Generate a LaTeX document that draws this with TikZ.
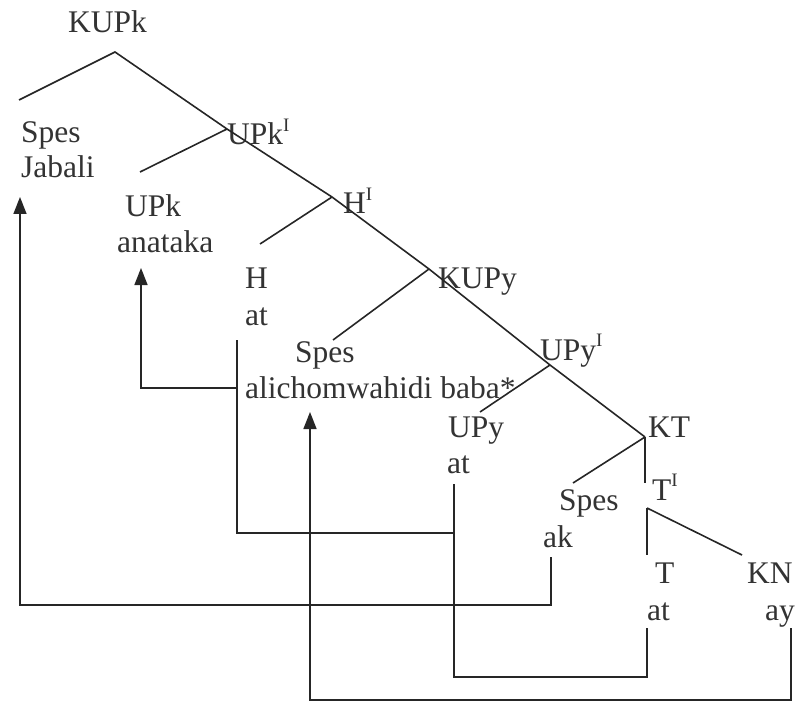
\documentclass[tikz,border=0pt]{standalone}
\usepackage{fontspec}
\setmainfont{Liberation Serif}
\usetikzlibrary{arrows.meta}
\newcommand{\supI}{\raisebox{0.42em}{\fontsize{19}{19}\selectfont I}}
\begin{document}
\begin{tikzpicture}[x=1pt,y=-1pt,
  lbl/.style={anchor=base west,inner sep=0pt,font=\fontsize{31.5}{36}\selectfont,text=black!80},
  ln/.style={line width=1.6pt,black!85},
  arr/.style={ln,-{Triangle[length=17pt,width=13pt]}}]
\useasboundingbox (0,0) rectangle (797,703);
% labels
\node[lbl] (kupk) at (68,33) {KUPk};
\node[lbl] (upkI) at (227,145) {UPk\supI};
\node[lbl] (hI) at (343,214) {H\supI};
\node[lbl] (kupy) at (438,288) {KUPy};
\node[lbl] (upyI) at (540,360) {UPy\supI};
\node[lbl] (kt) at (648,437) {KT};
\node[lbl] (tI) at (652,500) {T\supI};
\node[lbl] (spesA) at (21,143) {Spes};
\node[lbl] (jabali) at (21,178) {Jabali};
\node[lbl] (upk) at (125,217) {UPk};
\node[lbl] (anataka) at (117,252) {anataka};
\node[lbl] (h) at (245,288) {H};
\node[lbl] (hat) at (245,325) {at};
\node[lbl] (spesB) at (295,362) {Spes};
\node[lbl] (alich) at (245,398) {alichomwahidi baba*};
\node[lbl] (upy) at (448,437) {UPy};
\node[lbl] (upyat) at (447,473) {at};
\node[lbl] (spesC) at (559,510) {Spes};
\node[lbl] (ak) at (543,547) {ak};
\node[lbl] (t) at (655,583) {T};
\node[lbl] (tat) at (647,620) {at};
\node[lbl] (kn) at (747,583) {KN};
\node[lbl] (ay) at (765,620) {ay};
% tree points
\coordinate (root) at (115,52);
\coordinate (lend) at (19,100);
\coordinate (b1) at (227,129);
\coordinate (b1e) at (140,172);
\coordinate (b2) at (332,197);
\coordinate (b2e) at (260,244);
\coordinate (b3) at (429,269);
\coordinate (b3e) at (333,340);
\coordinate (b4) at (550,365);
\coordinate (b4e) at (480,412);
\coordinate (b5) at (645,437);
\coordinate (b5e) at (573,483);
\coordinate (b5v) at (645,483);
\coordinate (b6) at (647,508);
\coordinate (b6v) at (647,555);
\coordinate (b6e) at (742,555);
\draw[ln] (lend) -- (root) -- (b1) -- (b2) -- (b3) -- (b4) -- (b5);
\draw[ln] (b1) -- (b1e);
\draw[ln] (b2) -- (b2e);
\draw[ln] (b3) -- (b3e);
\draw[ln] (b4) -- (b4e);
\draw[ln] (b5) -- (b5e);
\draw[ln] (b5) -- (b5v);
\draw[ln] (b6) -- (b6v);
\draw[ln] (b6) -- (b6e);
% movement connectors
\coordinate (akf) at (551,557);
\coordinate (jt) at (20,197);
\draw[arr] (akf) -- (551,605) -- (20,605) -- (jt);
\coordinate (hatf) at (237,340);
\coordinate (upyatf) at (454,484);
\coordinate (tatf) at (647,628);
\coordinate (anat) at (141,268);
\draw[ln] (hatf) -- (237,533) -- (454,533);
\draw[ln] (upyatf) -- (454,677) -- (647,677) -- (tatf);
\draw[arr] (237,388) -- (141,388) -- (anat);
\coordinate (ayf) at (791,628);
\coordinate (alt) at (310,412);
\draw[arr] (ayf) -- (791,700) -- (310,700) -- (alt);
\end{tikzpicture}
\end{document}
